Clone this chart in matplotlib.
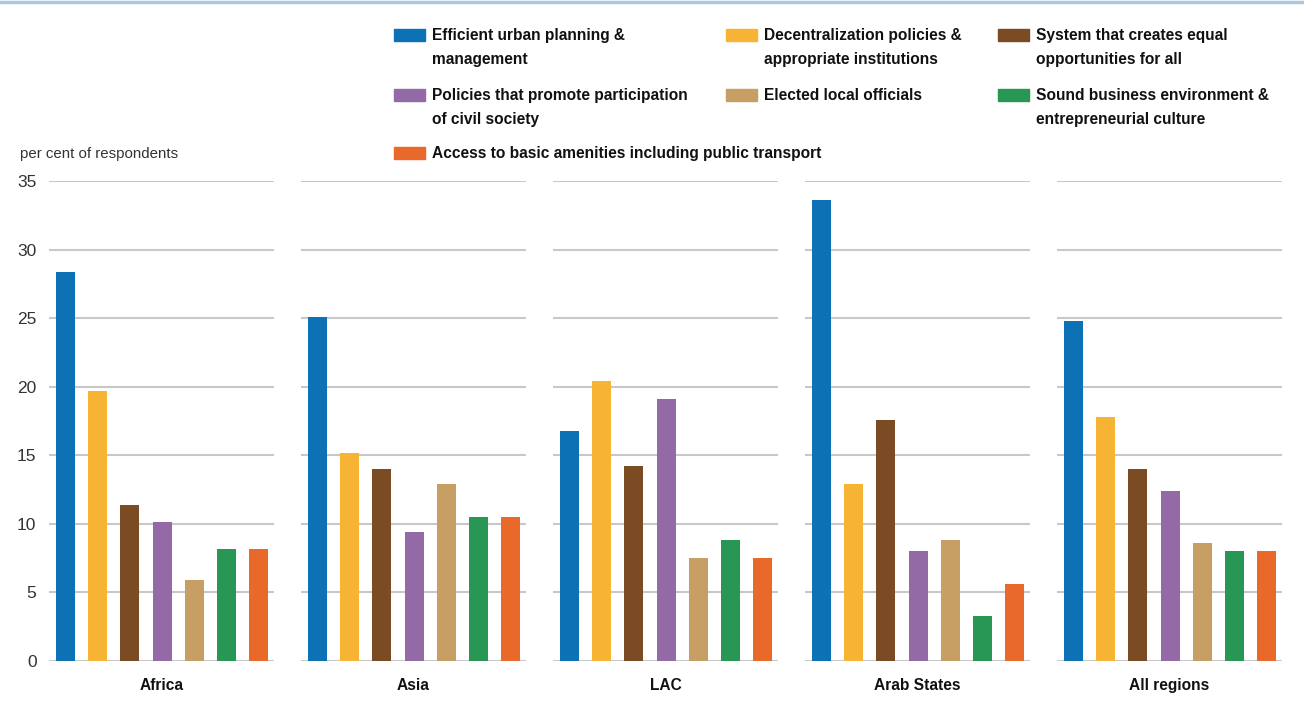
import matplotlib.pyplot as plt
from matplotlib.patches import Rectangle

regions = ["Africa", "Asia", "LAC", "Arab States", "All regions"]
factors = [
    "Efficient urban planning &\nmanagement",
    "Decentralization policies &\nappropriate institutions",
    "System that creates equal\nopportunities for all",
    "Policies that promote participation\nof civil society",
    "Elected local officials",
    "Sound business environment &\nentrepreneurial culture",
    "Access to basic amenities including public transport",
]
colors = ["#0c72b5", "#f7b334", "#7b4b24", "#936aa5", "#c79e64", "#289655", "#e9692a"]

# per cent of respondents, one list per region (factor order as above)
africa = [28.4, 19.7, 11.4, 10.1, 5.9, 8.2, 8.2]
asia = [25.1, 15.2, 14.0, 9.4, 12.9, 10.5, 10.5]
lac = [16.8, 20.45, 14.25, 19.1, 7.5, 8.8, 7.5]
arab_states = [33.6, 12.9, 17.6, 8.0, 8.85, 3.25, 5.65]
all_regions = [24.8, 17.8, 14.0, 12.4, 8.6, 8.0, 8.05]
values = [africa, asia, lac, arab_states, all_regions]

yticks = [0, 5, 10, 15, 20, 25, 30, 35]

plt.rcParams["font.family"] = ["Liberation Sans", "DejaVu Sans"]

W, H = 1304, 712
fig = plt.figure(figsize=(W / 100, H / 100), dpi=100)

# thin light-blue rule along the top
fig.add_artist(plt.Line2D([0, 1], [1 - 1.5 / H, 1 - 1.5 / H], color="#a9c7e1", lw=2.5,
                          transform=fig.transFigure))

left0, panel_w, step = 49, 225, 252
bottom, top = 661, 181
for i, (region, vals) in enumerate(zip(regions, values)):
    ax = fig.add_axes([(left0 + i * step) / W, (H - bottom) / H, panel_w / W, (bottom - top) / H])
    ax.bar(range(len(vals)), vals, width=0.59, color=colors, zorder=3)
    ax.set_xlim(-0.513, 6.48)
    ax.set_ylim(0, 35)
    ax.set_yticks(yticks)
    ax.yaxis.grid(True, color="#c8c8c8", lw=1.5, zorder=0)
    ax.set_axisbelow(True)
    ax.set_xticks([])
    for s in ax.spines.values():
        s.set_visible(False)
    ax.tick_params(axis="y", length=0, pad=9, labelsize=12.5, labelcolor="#333333")
    if i > 0:
        ax.set_yticklabels([])
    ax.text(0.5, -0.052, region, transform=ax.transAxes, ha="center", va="center",
            fontsize=11.2, fontweight="bold", color="#111111")

fig.text(20 / W, 1 - 154 / H, "per cent of respondents", ha="left", va="center",
         fontsize=10.8, color="#333333")

# legend, three columns
col_x = [394, 726, 998]
row_y = [35, 95, 153]
for k, (lab, c) in enumerate(zip(factors, colors)):
    r, col = divmod(k, 3)
    x, y = col_x[col], row_y[r]
    fig.add_artist(Rectangle((x / W, 1 - (y + 6) / H), 31 / W, 12 / H, color=c,
                             transform=fig.transFigure))
    fig.text((x + 38) / W, 1 - (y - 7) / H, lab, ha="left", va="top", fontsize=11.2,
             fontweight="bold", color="#111111", linespacing=1.72)

plt.savefig("out.png", dpi=100)
